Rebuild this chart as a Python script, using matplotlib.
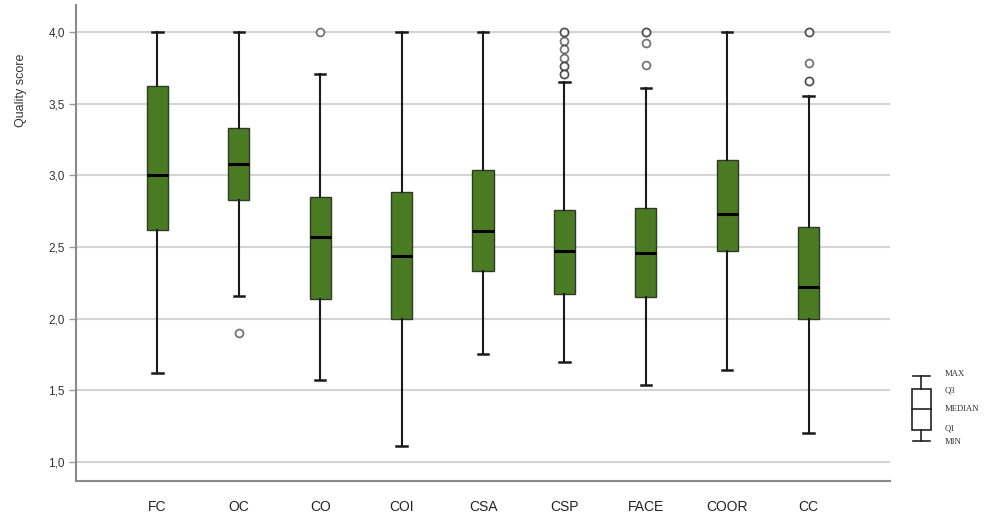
import matplotlib
matplotlib.use("Agg")
import matplotlib.pyplot as plt
from matplotlib.ticker import FuncFormatter

categories = ["FC", "OC", "CO", "COI", "CSA", "CSP", "FACE", "COOR", "CC"]
whisker_low = [1.62, 2.16, 1.57, 1.11, 1.75, 1.70, 1.54, 1.64, 1.20]
q1 = [2.62, 2.83, 2.14, 2.00, 2.33, 2.17, 2.15, 2.47, 2.00]
median = [3.00, 3.08, 2.57, 2.44, 2.61, 2.47, 2.46, 2.73, 2.22]
q3 = [3.62, 3.33, 2.85, 2.88, 3.04, 2.76, 2.77, 3.11, 2.64]
whisker_high = [4.00, 4.00, 3.71, 4.00, 4.00, 3.65, 3.61, 4.00, 3.55]
# repeated values = overlapping points (drawn darker)
outliers = [
    [],
    [1.90],
    [4.00],
    [],
    [],
    [4.00, 4.00, 3.94, 3.88, 3.82, 3.76, 3.76, 3.71, 3.71],
    [4.00, 4.00, 3.92, 3.77],
    [],
    [4.00, 4.00, 3.78, 3.66, 3.66],
]
yticks = [1.0, 1.5, 2.0, 2.5, 3.0, 3.5, 4.0]
legend_labels = ["MAX", "Q3", "MEDIAN", "Q1", "MIN"]

W, H = 984, 514
fig = plt.figure(figsize=(W / 100, H / 100), dpi=100)
ax = fig.add_axes([76 / W, 1 - 481 / H, (890 - 76) / W, (481 - 5) / H])

stats = []
for i, c in enumerate(categories):
    stats.append(dict(label=c, whislo=whisker_low[i], q1=q1[i], med=median[i],
                      q3=q3[i], whishi=whisker_high[i], fliers=[]))

pos = list(range(1, len(categories) + 1))
ax.bxp(stats, positions=pos, widths=0.26, patch_artist=True, showfliers=False,
       boxprops=dict(facecolor="#4a7b23", edgecolor="#2e3a25", linewidth=1.0),
       medianprops=dict(color="black", linewidth=2.2),
       whiskerprops=dict(color="#1a1a1a", linewidth=1.5),
       capprops=dict(color="#1a1a1a", linewidth=1.8),
       capwidths=0.13, zorder=3)

for p, vals in zip(pos, outliers):
    if vals:
        ax.scatter([p] * len(vals), vals, s=32, facecolors="white",
                   edgecolors=(0.1, 0.1, 0.1, 0.6), linewidths=1.3, zorder=4)

ax.set_xlim(0, 10)
ax.set_ylim(0.867, 4.188)
ax.set_yticks(yticks)
ax.yaxis.set_major_formatter(FuncFormatter(lambda v, _: f"{v:.1f}".replace(".", ",")))
ax.set_xticks(pos)
ax.set_xticklabels(categories, fontsize=10, color="#222222", family="Liberation Sans")
ax.tick_params(axis="x", length=0, pad=14)
ax.tick_params(axis="y", length=5, width=1, color="#999999", labelsize=8.5,
               labelcolor="#333333", pad=3)
for lab in ax.get_yticklabels():
    lab.set_family("Liberation Sans")
ax.grid(axis="y", color="#d4d4d4", linewidth=1.5, zorder=0)
ax.set_axisbelow(True)
for s in ["top", "right"]:
    ax.spines[s].set_visible(False)
for s in ["left", "bottom"]:
    ax.spines[s].set_color("#8a8a8a")
    ax.spines[s].set_linewidth(1.5)
ax.set_ylabel("Quality score", fontsize=9, color="#333333", family="Liberation Sans")
ax.yaxis.set_label_coords(-0.060, 0.82)

# Legend diagram on the right (pixel coordinate overlay)
lg = fig.add_axes([0, 0, 1, 1])
lg.set_xlim(0, W)
lg.set_ylim(H, 0)
lg.axis("off")
lg.patch.set_alpha(0)
col = "#222222"
cx = 921
lg.plot([913, 930], [376, 376], color=col, lw=1.2)
lg.plot([cx, cx], [376, 389], color=col, lw=1.2)
lg.add_patch(plt.Rectangle((912, 389), 19, 40.5, fill=False, ec=col, lw=1.2))
lg.plot([912, 931], [409, 409], color=col, lw=1.2)
lg.plot([cx, cx], [429.5, 441], color=col, lw=1.2)
lg.plot([913, 930], [441, 441], color=col, lw=1.2)
for lab, y in zip(legend_labels, [374, 390, 409, 428, 442]):
    lg.text(945, y, lab, fontsize=6.2, family="Liberation Serif", color="#333333",
            va="center", ha="left")

fig.savefig("out.png", dpi=100)
